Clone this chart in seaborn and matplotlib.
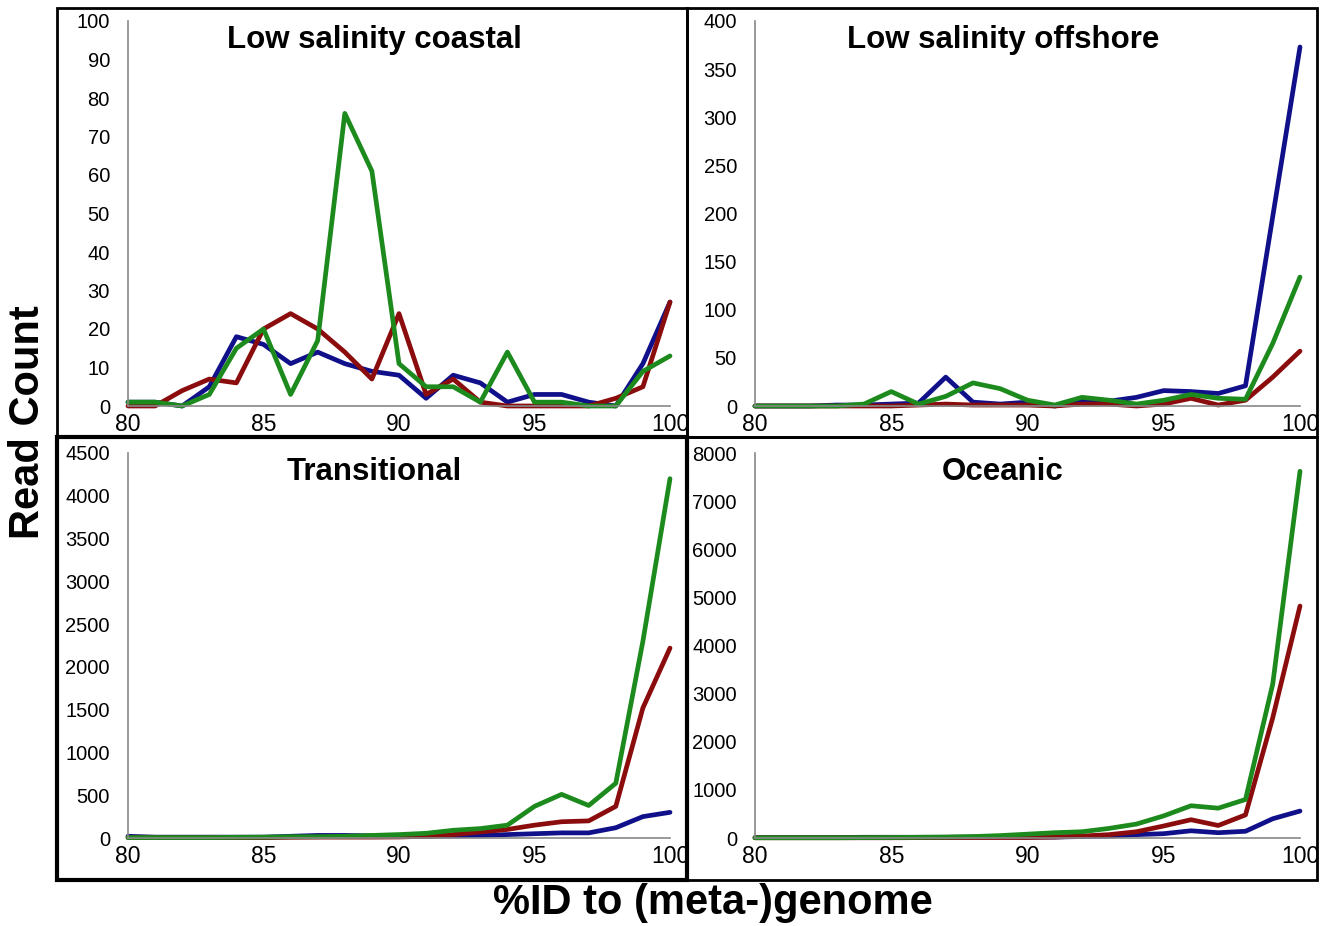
import pandas as pd
import seaborn as sns
import matplotlib.pyplot as plt
from matplotlib.patches import Rectangle

# %ID bins shared by all panels
pct_id = list(range(80, 101))

# Low salinity coastal
coastal_blue = [1, 1, 0, 5, 18, 16, 11, 14, 11, 9, 8, 2, 8, 6, 1, 3, 3, 1, 0, 11, 27]
coastal_red = [0, 0, 4, 7, 6, 20, 24, 20, 14, 7, 24, 3, 7, 1, 0, 0, 0, 0, 2, 5, 27]
coastal_green = [1, 1, 0, 3, 15, 20, 3, 17, 76, 61, 11, 5, 5, 1, 14, 1, 1, 0, 0, 9, 13]

# Low salinity offshore
offshore_blue = [0, 0, 0, 1, 1, 2, 3, 30, 4, 2, 4, 0, 5, 5, 9, 16, 15, 13, 21, 197, 373]
offshore_red = [0, 0, 0, 0, 0, 0, 1, 2, 1, 1, 1, 0, 2, 2, 0, 2, 8, 1, 6, 30, 57]
offshore_green = [0, 0, 0, 0, 2, 15, 2, 10, 24, 18, 6, 1, 9, 6, 2, 6, 12, 8, 7, 65, 134]

# Transitional
trans_blue = [20, 10, 10, 10, 10, 10, 20, 30, 30, 25, 25, 20, 25, 30, 40, 50, 60, 60, 120, 250, 300]
trans_red = [5, 5, 5, 5, 5, 5, 8, 10, 10, 10, 12, 20, 40, 70, 100, 150, 190, 200, 370, 1520, 2220]
trans_green = [5, 5, 5, 5, 8, 10, 15, 15, 20, 30, 40, 55, 90, 110, 150, 370, 510, 380, 640, 2300, 4200]

# Oceanic
ocean_blue = [10, 10, 10, 10, 15, 15, 15, 15, 20, 20, 20, 20, 30, 40, 70, 90, 150, 110, 140, 400, 560]
ocean_red = [5, 5, 5, 5, 5, 5, 8, 10, 10, 10, 10, 20, 40, 70, 130, 250, 380, 260, 480, 2500, 4820]
ocean_green = [5, 5, 5, 5, 8, 10, 15, 20, 30, 50, 80, 110, 130, 200, 290, 460, 670, 620, 800, 3200, 7620]

panel_titles = ['Low salinity coastal', 'Low salinity offshore', 'Transitional', 'Oceanic']
panel_series = [
    (coastal_blue, coastal_red, coastal_green),
    (offshore_blue, offshore_red, offshore_green),
    (trans_blue, trans_red, trans_green),
    (ocean_blue, ocean_red, ocean_green),
]
panel_ymax = [100, 400, 4500, 8000]
panel_ystep = [10, 50, 500, 1000]

palette = {'blue': '#10108a', 'red': '#8b0c0c', 'green': '#1c8a1c'}

sns.set_style('white')
plt.rcParams['font.family'] = ['Liberation Sans', 'DejaVu Sans']
plt.rcParams['text.color'] = 'black'
plt.rcParams['xtick.color'] = 'black'
plt.rcParams['ytick.color'] = 'black'

W, H = 1331, 926
fig = plt.figure(figsize=(W / 100, H / 100), dpi=100)

def fx(px):
    return px / W

def fy(py):
    return 1 - py / H

# axes pixel boxes: (x80, x100, y0, ytop)
boxes = [
    (128, 670, 406, 21),
    (755, 1300, 406, 21),
    (128, 670, 838, 453),
    (755, 1300, 838, 453),
]

for i, (title, series) in enumerate(zip(panel_titles, panel_series)):
    x0, x1, y0, y1 = boxes[i]
    ax = fig.add_axes([fx(x0), fy(y0), fx(x1) - fx(x0), fy(y1) - fy(y0)])
    df = pd.DataFrame({
        'pct': pct_id * 3,
        'count': series[0] + series[1] + series[2],
        'group': ['blue'] * 21 + ['red'] * 21 + ['green'] * 21,
    })
    sns.lineplot(data=df, x='pct', y='count', hue='group', palette=palette,
                 linewidth=3.4, legend=False, ax=ax, clip_on=False)
    ax.set_xlim(80, 100)
    ax.set_ylim(0, panel_ymax[i])
    ax.set_xticks([80, 85, 90, 95, 100])
    ax.set_yticks(range(0, panel_ymax[i] + 1, panel_ystep[i]))
    ax.set_xlabel('')
    ax.set_ylabel('')
    ax.tick_params(axis='x', labelsize=16.5, length=0, pad=5)
    ax.tick_params(axis='y', labelsize=14.5, length=4, color='#888888', pad=9)
    for s in ['top', 'right']:
        ax.spines[s].set_visible(False)
    for s in ['left', 'bottom']:
        ax.spines[s].set_color('#888888')
        ax.spines[s].set_linewidth(1.2)
    ax.patch.set_alpha(0)
    ax.text(0.455, 0.95, title, transform=ax.transAxes, ha='center', va='center',
            fontsize=22.5, fontweight='bold')

# panel frames
frames = [(57, 8, 687, 437, 2), (687, 8, 1317, 437, 2), (57, 437, 687, 880, 3), (687, 437, 1317, 880, 2)]
for l, t, r, b, lw in frames:
    fig.patches.append(Rectangle((fx(l), fy(b)), fx(r) - fx(l), fy(t) - fy(b),
                                 transform=fig.transFigure, fill=False,
                                 edgecolor='black', linewidth=lw, zorder=10))

fig.text(fx(28), fy(422), 'Read Count', rotation=90, ha='center', va='center',
         fontsize=30, fontweight='bold')
fig.text(fx(713), fy(903), '%ID to (meta-)genome', ha='center', va='center',
         fontsize=30, fontweight='bold')

fig.savefig('out.png', dpi=100)
